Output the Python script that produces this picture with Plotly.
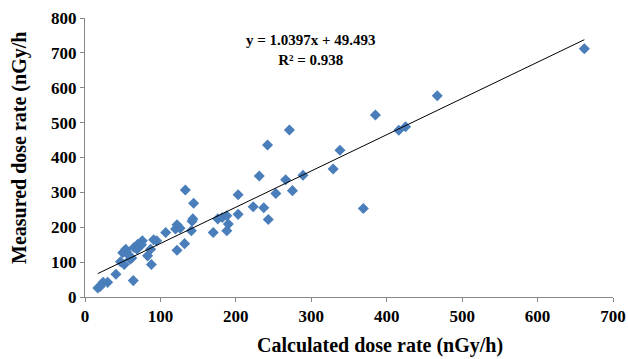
import plotly.graph_objects as go

calc = [662, 467, 385, 416, 425, 271, 242, 338, 329, 289, 231, 266, 275, 253, 203,
        369, 223, 237, 203, 243, 133, 144, 143, 142, 141, 132, 122, 122, 126, 120,
        107, 170, 176, 182, 188, 190, 188, 95, 91, 76, 70, 65, 87, 83, 88,
        64, 54, 50, 57, 47, 52, 41, 30, 24, 17, 60, 69, 20, 55, 62, 75]
meas = [712, 577, 522, 478, 488, 479, 436, 421, 367, 349, 347, 336, 305, 297, 293,
        254, 259, 256, 237, 222, 307, 269, 224, 217, 190, 153, 134, 207, 197, 195,
        185, 185, 224, 228, 190, 209, 233, 161, 164, 161, 151, 142, 137, 118, 93,
        47, 137, 127, 122, 101, 93, 65, 42, 42, 26, 108, 137, 30, 130, 112, 150]

slope = 1.0397
intercept = 49.493
r2 = 0.938

x_ticks = [0, 100, 200, 300, 400, 500, 600, 700]
y_ticks = [0, 100, 200, 300, 400, 500, 600, 700, 800]

FONT = "Liberation Serif"

fig = go.Figure()
fig.add_trace(go.Scatter(
    x=calc, y=meas, mode="markers",
    marker=dict(symbol="diamond", size=8.5, color="#4A7EBB", line=dict(width=0)),
    showlegend=False, hoverinfo="x+y"))

xl = [min(calc), max(calc)]
fig.add_trace(go.Scatter(
    x=xl, y=[slope * v + intercept for v in xl], mode="lines",
    line=dict(color="black", width=1), showlegend=False, hoverinfo="skip"))

axis_common = dict(
    showgrid=False, zeroline=False, showline=True, linecolor="#868686", linewidth=1,
    ticks="outside", ticklen=4, tickcolor="#868686", tickwidth=1,
    tickfont=dict(family=FONT, size=17, color="black"),
    ticklabeloverflow="allow", automargin=False,
)
fig.update_xaxes(range=[0, 700], tickvals=x_ticks, ticktext=[f"<b>{v}</b>" for v in x_ticks], **axis_common)
fig.update_yaxes(range=[0, 800], tickvals=y_ticks, ticktext=[f"<b>{v}</b>" for v in y_ticks], **axis_common)

L, R, T, B = 85, 15, 18, 62
PW = 628.0 - L - R
PH = 359.0 - T - B
fig.add_annotation(text="<b>Calculated dose rate (nGy/h)</b>", xref="paper", yref="paper",
                   x=(380 - L) / PW, y=-(345 - (359 - B)) / PH, xanchor="center", yanchor="middle",
                   showarrow=False,
                   font=dict(family=FONT, size=20, color="black"))
fig.add_annotation(text="<b>Measured dose rate (nGy/h</b>", xref="paper", yref="paper",
                   x=(19 - L) / PW, y=(359 - B - 148) / PH, xanchor="center", yanchor="middle",
                   textangle=-90, showarrow=False,
                   font=dict(family=FONT, size=20, color="black"))
fig.add_annotation(text=f"<b>y = {slope}x + {intercept}</b><br><b>R² = {r2}</b>",
                   xref="paper", yref="paper",
                   x=(311 - L) / PW, y=(359 - B - 50) / PH, xanchor="center", yanchor="middle",
                   showarrow=False, align="center",
                   font=dict(family=FONT, size=15, color="black"))

fig.update_layout(
    width=628, height=359,
    margin=dict(l=L, r=R, t=T, b=B, autoexpand=False),
    plot_bgcolor="white", paper_bgcolor="white",
)
fig.write_html("out.html")
